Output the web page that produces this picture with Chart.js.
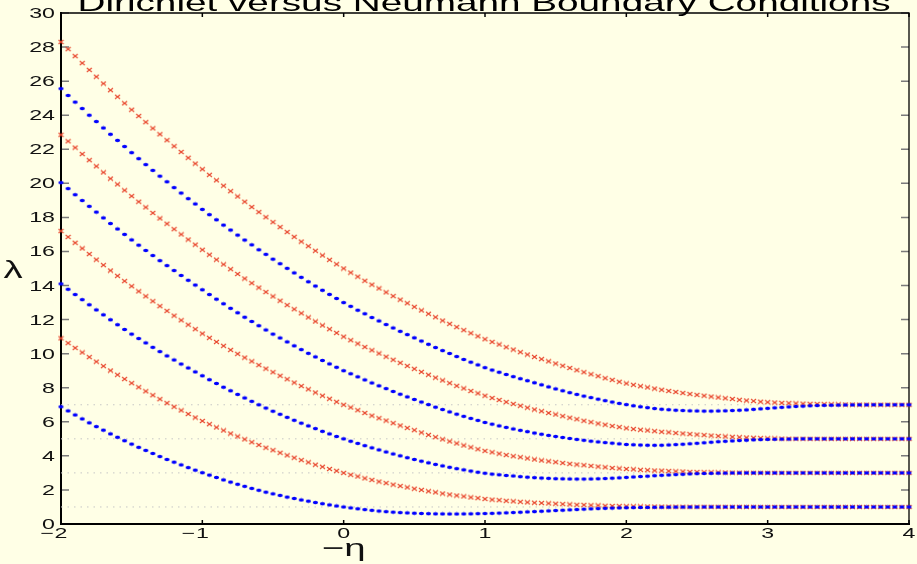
<!DOCTYPE html>
<html>
<head>
<meta charset="utf-8">
<title>Dirichlet versus Neumann Boundary Conditions</title>
<script src="https://cdn.jsdelivr.net/npm/chart.js@4.4.1/dist/chart.umd.min.js"></script>
<style>
    html, body { margin: 0; padding: 0; background: #ffffe6; }
    #wrap { width: 917px; height: 564px; position: relative; }
</style>
</head>
<body>
<div id="wrap"><canvas id="lambdaChart"></canvas></div>
<script>
// -eta grid (step 0.05)
const xs = [-2,-1.95,-1.9,-1.85,-1.8,-1.75,-1.7,-1.65,-1.6,-1.55,-1.5,-1.45,-1.4,-1.35,-1.3,-1.25,-1.2,-1.15,-1.1,-1.05,
    -1,-0.95,-0.9,-0.85,-0.8,-0.75,-0.7,-0.65,-0.6,-0.55,-0.5,-0.45,-0.4,-0.35,-0.3,-0.25,-0.2,-0.15,-0.1,-0.05,
    0,0.05,0.1,0.15,0.2,0.25,0.3,0.35,0.4,0.45,0.5,0.55,0.6,0.65,0.7,0.75,0.8,0.85,0.9,0.95,
    1,1.05,1.1,1.15,1.2,1.25,1.3,1.35,1.4,1.45,1.5,1.55,1.6,1.65,1.7,1.75,1.8,1.85,1.9,1.95,
    2,2.05,2.1,2.15,2.2,2.25,2.3,2.35,2.4,2.45,2.5,2.55,2.6,2.65,2.7,2.75,2.8,2.85,2.9,2.95,
    3,3.05,3.1,3.15,3.2,3.25,3.3,3.35,3.4,3.45,3.5,3.55,3.6,3.65,3.7,3.75,3.8,3.85,3.9,3.95,4];

// Neumann eigenvalues (blue dots)
const neumann1 = [6.88,
    6.64,6.40,6.17,5.94,5.72,5.51,5.29,5.09,4.89,4.69,
    4.50,4.32,4.14,3.96,3.79,3.63,3.47,3.31,3.16,3.01,
    2.87,2.73,2.59,2.46,2.33,2.21,2.09,1.98,1.87,1.77,
    1.68,1.58,1.50,1.41,1.34,1.26,1.19,1.12,1.06,1.00,
    0.945,0.893,0.845,0.80,0.76,0.725,0.695,0.67,0.65,0.632,
    0.618,0.607,0.598,0.593,0.59,0.59,0.593,0.598,0.606,0.616,
    0.627,0.64,0.655,0.672,0.69,0.71,0.73,0.75,0.77,0.79,
    0.81,0.83,0.85,0.87,0.89,0.905,0.92,0.935,0.945,0.955,
    0.963,0.97,0.976,0.982,0.986,0.99,0.993,0.995,0.997,0.998,
    1,1,1,1,1,1,1,1,1,1,
    1,1,1,1,1,1,1,1,1,1,
    1,1,1,1,1,1,1,1,1,1];
const neumann2 = [14.10,
    13.78,13.47,13.17,12.87,12.57,12.28,11.99,11.70,11.42,11.15,
    10.89,10.63,10.37,10.12,9.87,9.63,9.39,9.16,8.93,8.70,
    8.47,8.25,8.03,7.82,7.61,7.40,7.20,7.00,6.81,6.62,
    6.44,6.26,6.09,5.92,5.76,5.60,5.44,5.29,5.14,5.00,
    4.86,4.73,4.60,4.47,4.35,4.23,4.11,4.00,3.89,3.79,
    3.69,3.59,3.50,3.41,3.33,3.25,3.18,3.11,3.04,2.98,
    2.93,2.89,2.85,2.82,2.78,2.75,2.72,2.70,2.68,2.66,
    2.65,2.645,2.64,2.64,2.645,2.655,2.67,2.69,2.71,2.735,
    2.76,2.785,2.81,2.835,2.86,2.88,2.90,2.92,2.94,2.955,
    2.965,2.975,2.985,2.99,2.995,2.997,2.999,3,3,3,
    3,3,3,3,3,3,3,3,3,3,
    3,3,3,3,3,3,3,3,3,3];
const neumann3 = [20.04,
    19.69,19.33,18.99,18.65,18.31,17.97,17.64,17.32,17.00,16.68,
    16.37,16.06,15.76,15.46,15.17,14.88,14.59,14.31,14.03,13.75,
    13.47,13.20,12.93,12.66,12.40,12.14,11.89,11.64,11.39,11.15,
    10.92,10.69,10.46,10.24,10.02,9.81,9.60,9.40,9.20,9.00,
    8.82,8.64,8.46,8.28,8.11,7.95,7.78,7.62,7.46,7.31,
    7.16,7.01,6.86,6.72,6.58,6.45,6.32,6.20,6.08,5.96,
    5.86,5.76,5.67,5.58,5.50,5.42,5.34,5.27,5.20,5.14,
    5.08,5.02,4.965,4.915,4.865,4.82,4.78,4.745,4.705,4.67,
    4.65,4.635,4.625,4.62,4.625,4.64,4.66,4.685,4.71,4.74,
    4.77,4.80,4.83,4.855,4.88,4.90,4.92,4.94,4.955,4.965,
    4.975,4.983,4.99,4.995,4.998,5,5,5,5,5,
    5,5,5,5,5,5,5,5,5,5];
const neumann4 = [25.56,
    25.16,24.77,24.39,24.00,23.63,23.25,22.88,22.52,22.16,21.80,
    21.45,21.10,20.76,20.42,20.09,19.75,19.43,19.10,18.79,18.47,
    18.16,17.86,17.55,17.26,16.96,16.67,16.39,16.10,15.83,15.55,
    15.28,15.01,14.74,14.48,14.22,13.97,13.72,13.48,13.24,13.00,
    12.78,12.55,12.34,12.12,11.92,11.71,11.51,11.31,11.12,10.93,
    10.74,10.55,10.36,10.18,10.01,9.83,9.66,9.50,9.34,9.18,
    9.04,8.91,8.78,8.65,8.53,8.41,8.29,8.17,8.05,7.93,
    7.82,7.71,7.61,7.51,7.42,7.33,7.24,7.16,7.08,7.01,
    6.94,6.88,6.83,6.78,6.74,6.71,6.68,6.66,6.645,6.635,
    6.63,6.63,6.635,6.645,6.66,6.68,6.70,6.73,6.76,6.79,
    6.82,6.85,6.875,6.90,6.92,6.94,6.955,6.965,6.975,6.982,
    6.988,6.992,6.995,6.997,6.999,7,7,7,7,7];

// Dirichlet eigenvalues (red crosses)
const dirichlet1 = [10.90,
    10.62,10.34,10.07,9.80,9.53,9.27,9.01,8.76,8.51,8.27,
    8.03,7.79,7.56,7.33,7.10,6.88,6.67,6.46,6.25,6.05,
    5.86,5.67,5.49,5.31,5.14,4.97,4.80,4.64,4.48,4.33,
    4.18,4.03,3.89,3.75,3.62,3.48,3.36,3.23,3.12,3.00,
    2.89,2.79,2.68,2.59,2.49,2.40,2.31,2.23,2.15,2.07,
    2.00,1.92,1.86,1.79,1.73,1.67,1.62,1.56,1.52,1.47,
    1.43,1.40,1.36,1.33,1.30,1.27,1.25,1.23,1.21,1.19,
    1.17,1.15,1.13,1.12,1.10,1.09,1.07,1.06,1.05,1.04,
    1.035,1.03,1.026,1.022,1.019,1.016,1.014,1.012,1.011,1.01,
    1.008,1.007,1.006,1.005,1.004,1.003,1.002,1.002,1.001,1,
    1,1,1,1,1,1,1,1,1,1,
    1,1,1,1,1,1,1,1,1,1];
const dirichlet2 = [17.20,
    16.85,16.51,16.18,15.85,15.52,15.20,14.88,14.57,14.26,13.96,
    13.66,13.37,13.08,12.79,12.51,12.23,11.96,11.70,11.44,11.18,
    10.93,10.69,10.46,10.22,9.99,9.77,9.55,9.33,9.12,8.91,
    8.70,8.50,8.30,8.10,7.91,7.72,7.53,7.35,7.17,7.00,
    6.84,6.68,6.52,6.36,6.21,6.07,5.92,5.78,5.64,5.51,
    5.37,5.23,5.10,4.97,4.85,4.73,4.61,4.50,4.39,4.29,
    4.21,4.13,4.05,3.98,3.92,3.85,3.79,3.73,3.68,3.63,
    3.58,3.53,3.49,3.45,3.41,3.37,3.33,3.29,3.26,3.23,
    3.21,3.18,3.16,3.14,3.13,3.11,3.09,3.08,3.06,3.05,
    3.04,3.035,3.03,3.022,3.016,3.012,3.008,3.005,3.002,3,
    3,3,3,3,3,3,3,3,3,3,
    3,3,3,3,3,3,3,3,3,3];
const dirichlet3 = [22.85,
    22.47,22.10,21.72,21.36,21.00,20.64,20.28,19.94,19.59,19.25,
    18.92,18.59,18.26,17.94,17.63,17.31,17.00,16.70,16.40,16.10,
    15.81,15.52,15.24,14.96,14.68,14.41,14.14,13.88,13.62,13.36,
    13.11,12.85,12.61,12.37,12.13,11.89,11.66,11.44,11.22,11.00,
    10.79,10.59,10.39,10.20,10.01,9.82,9.64,9.46,9.28,9.11,
    8.93,8.76,8.59,8.43,8.27,8.11,7.96,7.81,7.67,7.53,
    7.40,7.28,7.16,7.05,6.94,6.83,6.72,6.62,6.52,6.43,
    6.33,6.24,6.15,6.06,5.98,5.90,5.83,5.75,5.69,5.62,
    5.575,5.53,5.49,5.45,5.41,5.38,5.34,5.31,5.28,5.25,
    5.22,5.19,5.165,5.14,5.115,5.095,5.075,5.06,5.045,5.03,
    5.02,5.012,5.007,5.004,5.002,5.001,5,5,5,5,
    5,5,5,5,5,5,5,5,5,5];
const dirichlet4 = [28.30,
    27.88,27.47,27.06,26.66,26.26,25.86,25.47,25.08,24.70,24.32,
    23.95,23.59,23.23,22.88,22.53,22.18,21.84,21.50,21.16,20.83,
    20.50,20.18,19.86,19.54,19.23,18.92,18.61,18.31,18.01,17.72,
    17.43,17.14,16.86,16.58,16.31,16.04,15.77,15.51,15.25,15.00,
    14.76,14.52,14.28,14.05,13.83,13.60,13.38,13.17,12.96,12.75,
    12.54,12.34,12.14,11.94,11.75,11.56,11.38,11.20,11.02,10.85,
    10.69,10.54,10.38,10.24,10.09,9.95,9.81,9.68,9.55,9.42,
    9.29,9.16,9.03,8.91,8.79,8.68,8.56,8.46,8.35,8.25,
    8.17,8.09,8.02,7.95,7.88,7.81,7.75,7.69,7.63,7.58,
    7.53,7.48,7.43,7.38,7.34,7.29,7.25,7.22,7.18,7.15,
    7.13,7.11,7.095,7.08,7.065,7.055,7.045,7.035,7.027,7.02,
    7.015,7.01,7.007,7.005,7.003,7.002,7.001,7,7,7];

// whole-line limits (dotted guides)
const limitLevels = [1, 3, 5, 7];

const xTicks = [-2, -1, 0, 1, 2, 3, 4];
const yTicks = [0, 2, 4, 6, 8, 10, 12, 14, 16, 18, 20, 22, 24, 26, 28, 30];

const titleText = "Dirichlet versus Neumann Boundary Conditions";
const xTitle = "\u2212\u03b7";
const yTitle = "\u03bb";

const FONT = "'Liberation Sans', Helvetica, Arial, sans-serif";
const STRETCH = 1.6; // the original figure is widened, text and markers included

function toPoints(vals) {
    if (vals.length !== xs.length) console.warn("length mismatch", vals.length);
    return xs.map((x, i) => ({ x: x, y: vals[i] }));
}

// widened marker glyphs
function makeDot() {
    let c = document.createElement("canvas");
    c.width = 7; c.height = 5;
    let g = c.getContext("2d");
    g.fillStyle = "#0000ff";
    g.beginPath();
    g.ellipse(3.5, 2.5, 2.6, 1.7, 0, 0, Math.PI * 2);
    g.fill();
    return c;
}
function makeCross() {
    let c = document.createElement("canvas");
    c.width = 7; c.height = 6;
    let g = c.getContext("2d");
    g.strokeStyle = "#e8442a";
    g.lineWidth = 1.1;
    g.beginPath();
    g.moveTo(1, 1); g.lineTo(6, 5);
    g.moveTo(1, 5); g.lineTo(6, 1);
    g.stroke();
    return c;
}
const dotImg = makeDot();
const crossImg = makeCross();

function neumannSet(vals) {
    return {
        data: toPoints(vals),
        showLine: false,
        pointStyle: dotImg,
        pointRadius: 3,
        order: 1,
        clip: false
    };
}

function dirichletSet(vals) {
    return {
        data: toPoints(vals),
        showLine: false,
        pointStyle: crossImg,
        pointRadius: 3,
        order: 2,
        clip: false
    };
}

let datasets = limitLevels.map(v => ({
    data: [{ x: xTicks[0], y: v }, { x: xTicks[xTicks.length - 1], y: v }],
    showLine: true,
    borderColor: "#c6c6c6",
    borderWidth: 1,
    borderDash: [1.5, 5],
    pointRadius: 0,
    order: 5
}));
[dirichlet1, dirichlet2, dirichlet3, dirichlet4].forEach(d => datasets.push(dirichletSet(d)));
[neumann1, neumann2, neumann3, neumann4].forEach(n => datasets.push(neumannSet(n)));

function wideText(ctx, text, x, y, align) {
    ctx.save();
    ctx.translate(x, y);
    ctx.scale(STRETCH, 1);
    ctx.textAlign = align;
    ctx.fillText(text, 0, 0);
    ctx.restore();
}

// MATLAB-like box, inward ticks and labels
const axesBox = {
    id: "axesBox",
    beforeDatasetsDraw(chart) {
        const ctx = chart.ctx;
        const a = chart.chartArea;
        const sx = chart.scales.x, sy = chart.scales.y;
        ctx.save();

        ctx.strokeStyle = "#7a7a7a";
        ctx.lineWidth = 1.5;
        yTicks.forEach(v => {
            let py = sy.getPixelForValue(v);
            ctx.beginPath();
            ctx.moveTo(a.left, py); ctx.lineTo(a.left + 8, py);
            ctx.moveTo(a.right, py); ctx.lineTo(a.right - 8, py);
            ctx.stroke();
        });

        ctx.strokeStyle = "#000";
        ctx.lineWidth = 1.5;
        xTicks.forEach(v => {
            let px = sx.getPixelForValue(v);
            ctx.beginPath();
            ctx.moveTo(px, a.bottom); ctx.lineTo(px, a.bottom - 4);
            ctx.moveTo(px, a.top); ctx.lineTo(px, a.top + 4);
            ctx.stroke();
        });

        ctx.strokeStyle = "#000";
        ctx.lineWidth = 1.3;
        ctx.beginPath();
        ctx.moveTo(a.left, a.top); ctx.lineTo(a.right, a.top); ctx.lineTo(a.right, a.bottom);
        ctx.stroke();
        ctx.lineWidth = 2;
        ctx.beginPath();
        ctx.moveTo(a.left, a.top - 1); ctx.lineTo(a.left, a.bottom); ctx.lineTo(a.right + 1, a.bottom);
        ctx.stroke();
        ctx.restore();
    },
    afterDraw(chart) {
        const ctx = chart.ctx;
        const a = chart.chartArea;
        const sx = chart.scales.x, sy = chart.scales.y;
        ctx.save();
        ctx.fillStyle = "#111";

        // y tick labels
        ctx.font = "14.5px " + FONT;
        ctx.textBaseline = "middle";
        yTicks.forEach(v => wideText(ctx, String(v), a.left - 6, sy.getPixelForValue(v) + 1, "right"));

        // x tick labels: digit centred on the tick, minus hanging left
        ctx.textBaseline = "alphabetic";
        xTicks.forEach(v => {
            let px = sx.getPixelForValue(v);
            let digits = String(Math.abs(v));
            let w = ctx.measureText(digits).width * STRETCH;
            wideText(ctx, digits, px, 538, "center");
            if (v < 0) wideText(ctx, "\u2212", px - w / 2 - 1, 538, "right");
        });

        // axis titles
        ctx.font = "24px " + FONT;
        wideText(ctx, xTitle, sx.getPixelForValue(0), 556, "center");
        wideText(ctx, yTitle, 13, 278, "center");

        // title, sized to span the same width as the original
        ctx.font = "24px " + FONT;
        let tw = ctx.measureText(titleText).width;
        ctx.fillStyle = "#000";
        ctx.save();
        ctx.translate(484, 10.5);
        ctx.scale(813 / tw, 1);
        ctx.textAlign = "center";
        ctx.fillText(titleText, 0, 0);
        ctx.restore();
        ctx.restore();
    }
};

const lambdaChart = new Chart(document.getElementById("lambdaChart"), {
    type: "scatter",
    data: { datasets: datasets },
    options: {
        responsive: true,
        maintainAspectRatio: false,
        animation: false,
        devicePixelRatio: 1,
        events: [],
        layout: { padding: { left: 61, right: 8, top: 13, bottom: 40 } },
        plugins: {
            legend: { display: false },
            tooltip: { enabled: false },
            title: { display: false }
        },
        scales: {
            x: { type: "linear", min: -2, max: 4, display: false },
            y: { type: "linear", min: 0, max: 30, display: false }
        }
    },
    plugins: [axesBox]
});
</script>
</body>
</html>
